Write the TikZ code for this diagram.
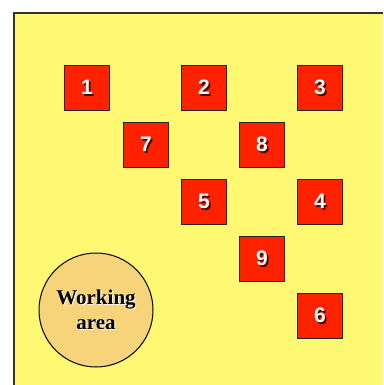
\documentclass[tikz,border=0pt]{standalone}
\usepackage{fontspec}
\setmainfont{Liberation Serif}
\setsansfont{Liberation Sans}
\newcommand{\shtext}[4]{\rlap{\hspace*{#2}\raisebox{#3}{\color{#4}#1}}#1}
\begin{document}
\definecolor{bgyellow}{HTML}{FFF872}
\definecolor{boxred}{HTML}{FF2200}
\definecolor{circfill}{HTML}{F7D37A}
\definecolor{frame}{HTML}{333333}
\definecolor{shadowred}{HTML}{4A0A00}
\begin{tikzpicture}[x=1pt,y=-1pt,
  bin/.style={draw=black!85,line width=1pt,fill=boxred,minimum width=45pt,minimum height=45pt,inner sep=0pt,
    font=\sffamily\bfseries\fontsize{21}{21}\selectfont,text=white}]
\useasboundingbox (0,0) rectangle (383,385);
\fill[white] (0,0) rectangle (383,385);
\fill[bgyellow] (14,13) rectangle (383,385);
\draw[frame,line width=1.2pt] (14,385) -- (14,13) -- (383,13);
\foreach \n/\x/\y in {1/87/88,2/204/88,3/320/88,7/146/145,8/262/145,5/204/202,4/320/202,9/262/259,6/320/316}{
  \node[bin] (b\n) at (\x,\y) {\shtext{\n}{1.8pt}{-1.8pt}{shadowred}};
}
\node[circle,draw=black,line width=1pt,fill=circfill,minimum size=114pt,inner sep=0pt,align=center,text=black,
  font=\bfseries\fontsize{21}{25}\selectfont] (wa) at (96,310)
  {\shtext{Working}{1pt}{-1pt}{white}\\\shtext{area}{1pt}{-1pt}{white}};
\end{tikzpicture}
\end{document}
